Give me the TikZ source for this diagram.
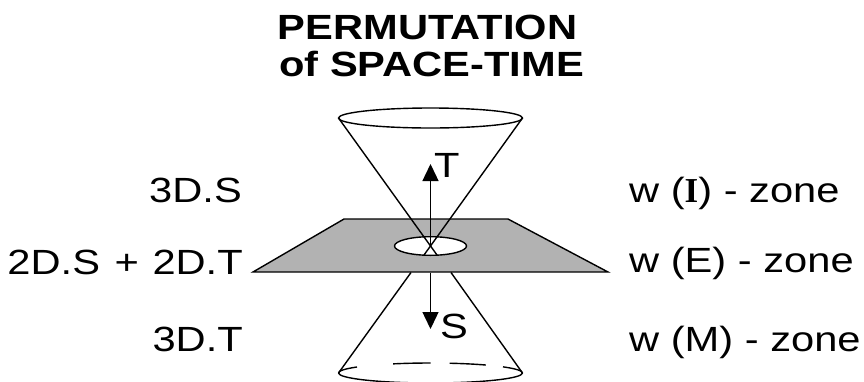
\documentclass[tikz,border=0pt]{standalone}
\usepackage{fontspec}
\setmainfont{Liberation Sans}
\newfontfamily\serifI{Liberation Serif}
\newfontfamily\widesans[FakeStretch=1.19]{Liberation Sans}
\usetikzlibrary{arrows.meta}
\tikzset{
  lbl/.style={inner sep=0pt,font=\widesans\fontsize{35}{38}\selectfont,text=black,anchor=base west},
  lble/.style={lbl,anchor=base east},
  ttl/.style={inner sep=0pt,font=\widesans\fontsize{35}{38}\bfseries\selectfont,text=black,anchor=base},
  ln/.style={draw=black,line width=1.4pt},
  arr/.style={ln,-{Triangle[length=17pt,width=16pt]}},
}
\begin{document}
\begin{tikzpicture}[x=1pt,y=-1pt]
\useasboundingbox (0,0) rectangle (864,381);
\clip (0,0) rectangle (864,381);
\node[ttl] (t1) at (427.5,39) {PERMUTATION};
\node[ttl] (t2) at (431.5,76) {of SPACE-TIME};
% upper cone
\coordinate (apex) at (430.5,246);
\coordinate (tl) at (338.5,118);
\coordinate (tr) at (522.5,118);
\draw[ln] (430.5,118) ellipse [x radius=92,y radius=10];
% plane
\coordinate (pa) at (253,272);
\coordinate (pb) at (344,219);
\coordinate (pc) at (508,219);
\coordinate (pd) at (608,272);
\draw[ln,fill=black!30] (pa) -- (pb) -- (pc) -- (pd) -- cycle;
\draw[ln,fill=white] (apex) ellipse [x radius=36,y radius=9.3];
% cone edges through the apex, down to the rim of the hole
\coordinate (hl) at (424,255);
\coordinate (hr) at (437,255);
\draw[ln] (tl) -- (hr);
\draw[ln] (tr) -- (hl);
% lower cone
\coordinate (bl) at (338.5,373);
\coordinate (br) at (522.5,373);
\coordinate (ql) at (411,272.5);
\coordinate (qr) at (451,272.5);
\draw[ln] (ql) -- (bl);
\draw[ln] (qr) -- (br);
\draw[ln] (bl) arc [start angle=180,end angle=0,x radius=92,y radius=10];
\draw[ln] (bl) arc [start angle=-180,end angle=-143,x radius=92,y radius=10];
\draw[ln] (430.5,373) ++(-114:92 and 10) arc [start angle=-114,end angle=-90,x radius=92,y radius=10];
\draw[ln] (430.5,373) ++(-78:92 and 10) arc [start angle=-78,end angle=-53,x radius=92,y radius=10];
\draw[ln] (430.5,373) ++(-38:92 and 10) arc [start angle=-38,end angle=0,x radius=92,y radius=10];
% arrows
\coordinate (tt) at (430.5,164);
\coordinate (st) at (430.5,329);
\coordinate (sb) at (430.5,272.5);
\draw[arr] (apex) -- (tt);
\draw[arr] (sb) -- (st);
\node[lbl] (T) at (434,177) {T};
\node[lbl] (S) at (440,338) {S};
% left labels
\node[lble] (l1) at (242,202) {3D.S};
\node[lble] (l2) at (243,274) {2D.S\hspace{3pt} + \hspace{2pt}2D.T};
\node[lble] (l3) at (243,351) {3D.T};
% right labels
\node[lbl] (r1) at (629,202) {w ({\serifI\bfseries I}) - zone};
\node[lbl] (r2) at (629,272) {w (E) - zone};
\node[lbl] (r3) at (629,351) {w (M) - zone};
\end{tikzpicture}
\end{document}
